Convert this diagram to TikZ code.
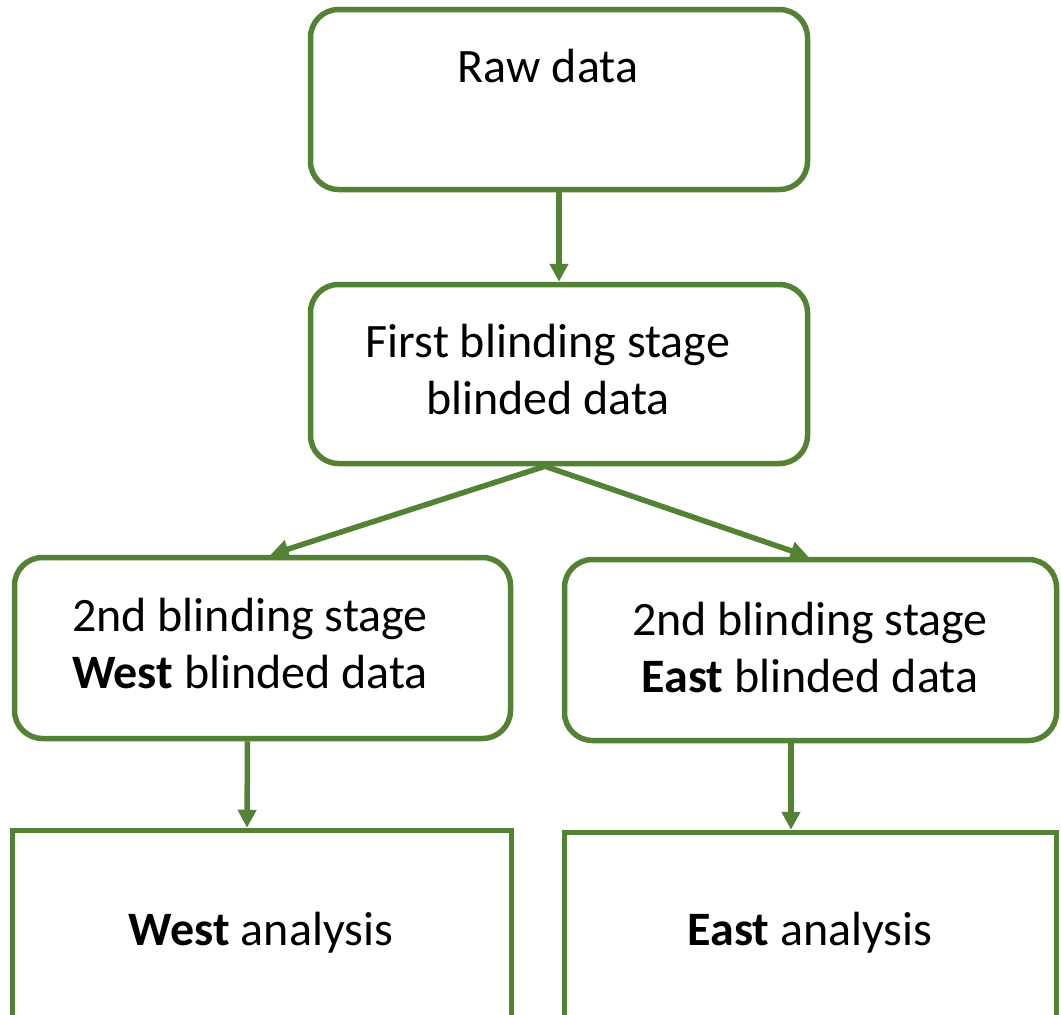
\documentclass[tikz,border=0pt]{standalone}
\usepackage{fontspec}
\setmainfont{Carlito}
\usetikzlibrary{arrows.meta}
\definecolor{boxgreen}{RGB}{84,130,53}
\begin{document}
\begin{tikzpicture}[x=1pt,y=1pt,
  font=\fontsize{48}{57}\selectfont,
  roundbox/.style={draw=boxgreen,line width=5.5pt,rounded corners=28pt,inner sep=0pt},
  sharpbox/.style={draw=boxgreen,line width=5.5pt,inner sep=0pt},
  txt/.style={align=center,inner sep=0pt},
  conn/.style={draw=boxgreen,line width=5.5pt,-{Triangle[width=18pt,length=18pt]}}]
\useasboundingbox (0,0) rectangle (1061,-1015);
\node[roundbox,minimum width=497pt,minimum height=180pt] (raw) at (559,-99.5) {};
\node[roundbox,minimum width=497pt,minimum height=179pt] (first) at (559,-374) {};
\node[roundbox,minimum width=496pt,minimum height=181pt] (west) at (262.5,-648) {};
\node[roundbox,minimum width=492pt,minimum height=181pt] (east) at (810.5,-650) {};
\node[sharpbox,minimum width=499pt,minimum height=209pt] (westa) at (262,-935) {};
\node[sharpbox,minimum width=492pt,minimum height=209pt] (easta) at (810.5,-937) {};
\node[txt] (rawtxt) at (548,-66) {Raw data};
\node[txt] (firsttxt) at (548,-370) {First blinding stage\\blinded data};
\node[txt] (westtxt) at (250,-644) {2nd blinding stage\\\textbf{West} blinded data};
\node[txt] (easttxt) at (810,-648) {2nd blinding stage\\\textbf{East} blinded data};
\node[txt] (westatxt) at (261,-933) {\textbf{West} analysis};
\node[txt] (eastatxt) at (810,-933) {\textbf{East} analysis};
\draw[conn] (raw.south) -- (first.north);
\draw[conn] ([xshift=-14pt]first.south) -- ([xshift=8pt]west.north);
\draw[conn] ([xshift=-14pt]first.south) -- ([xshift=-2pt]east.north);
\draw[conn] ([xshift=-15pt]west.south) -- ([xshift=-15pt]westa.north);
\draw[conn] ([xshift=-19.5pt]east.south) -- ([xshift=-19.5pt]easta.north);
\end{tikzpicture}
\end{document}
